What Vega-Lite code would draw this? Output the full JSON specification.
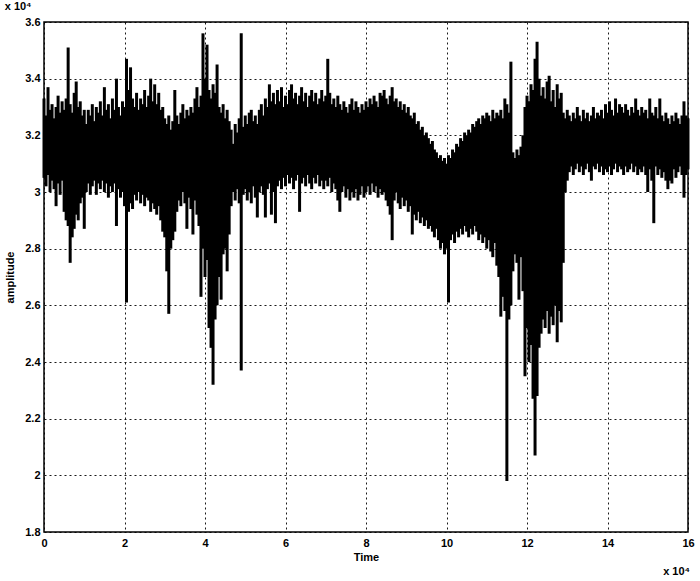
{
"$schema": "https://vega.github.io/schema/vega-lite/v6.json",
"width": 644, "height": 510,
"autosize": "none",
"padding": {"left": 44, "top": 22, "right": 12, "bottom": 49},
"background": "white",
"config": {
  "font": "Liberation Sans",
  "view": {"stroke": "black", "strokeWidth": 1.5},
  "axis": {"labelFont": "Liberation Sans", "labelFontSize": 11, "labelFontWeight": "bold", "labelColor": "black", "titleFont": "Liberation Sans", "titleFontSize": 11, "titleFontWeight": "bold", "titleColor": "black", "ticks": false, "domain": false, "grid": true, "gridColor": "black", "gridDash": [2, 3], "gridWidth": 1, "gridOpacity": 0.9}
},
"title": {"text": "x 10⁴", "anchor": "start", "fontSize": 11, "fontWeight": "bold", "font": "Liberation Sans", "color": "black", "offset": 4},
"layer": [
{
"data": {"values": [
{"t":0.00,"lo":3.05,"hi":3.33},{"t":0.05,"lo":3.02,"hi":3.27},{"t":0.10,"lo":3.06,"hi":3.37},{"t":0.15,"lo":3.00,"hi":3.29},{"t":0.20,"lo":3.04,"hi":3.31},{"t":0.25,"lo":3.01,"hi":3.26},{"t":0.30,"lo":2.95,"hi":3.30},{"t":0.35,"lo":3.03,"hi":3.34},{"t":0.40,"lo":2.99,"hi":3.28},{"t":0.45,"lo":3.04,"hi":3.32},
{"t":0.50,"lo":2.93,"hi":3.29},{"t":0.55,"lo":2.90,"hi":3.33},{"t":0.60,"lo":2.88,"hi":3.51},{"t":0.65,"lo":2.75,"hi":3.31},{"t":0.70,"lo":2.84,"hi":3.28},{"t":0.75,"lo":2.87,"hi":3.35},{"t":0.80,"lo":2.92,"hi":3.39},{"t":0.85,"lo":2.90,"hi":3.30},{"t":0.90,"lo":2.96,"hi":3.32},{"t":0.95,"lo":2.98,"hi":3.27},
{"t":1.00,"lo":2.87,"hi":3.29},{"t":1.05,"lo":3.00,"hi":3.24},{"t":1.10,"lo":3.03,"hi":3.29},{"t":1.15,"lo":2.99,"hi":3.27},{"t":1.20,"lo":3.02,"hi":3.31},{"t":1.25,"lo":3.04,"hi":3.25},{"t":1.30,"lo":2.99,"hi":3.30},{"t":1.35,"lo":3.03,"hi":3.28},{"t":1.40,"lo":3.01,"hi":3.32},{"t":1.45,"lo":3.04,"hi":3.27},
{"t":1.50,"lo":3.00,"hi":3.37},{"t":1.55,"lo":3.03,"hi":3.29},{"t":1.60,"lo":2.98,"hi":3.31},{"t":1.65,"lo":3.02,"hi":3.26},{"t":1.70,"lo":3.00,"hi":3.33},{"t":1.75,"lo":3.03,"hi":3.29},{"t":1.80,"lo":2.88,"hi":3.40},{"t":1.85,"lo":3.01,"hi":3.30},{"t":1.90,"lo":2.98,"hi":3.27},{"t":1.95,"lo":3.00,"hi":3.32},
{"t":2.00,"lo":2.95,"hi":3.30},{"t":2.05,"lo":2.61,"hi":3.47},{"t":2.10,"lo":2.93,"hi":3.36},{"t":2.15,"lo":2.96,"hi":3.44},{"t":2.20,"lo":2.94,"hi":3.33},{"t":2.25,"lo":2.99,"hi":3.30},{"t":2.30,"lo":2.97,"hi":3.35},{"t":2.35,"lo":3.00,"hi":3.29},{"t":2.40,"lo":2.96,"hi":3.33},{"t":2.45,"lo":2.99,"hi":3.31},
{"t":2.50,"lo":2.95,"hi":3.36},{"t":2.55,"lo":2.98,"hi":3.30},{"t":2.60,"lo":2.97,"hi":3.34},{"t":2.65,"lo":2.93,"hi":3.40},{"t":2.70,"lo":2.96,"hi":3.32},{"t":2.75,"lo":2.94,"hi":3.38},{"t":2.80,"lo":2.92,"hi":3.31},{"t":2.85,"lo":2.95,"hi":3.35},{"t":2.90,"lo":2.90,"hi":3.29},{"t":2.95,"lo":2.86,"hi":3.30},
{"t":3.00,"lo":2.84,"hi":3.26},{"t":3.05,"lo":2.72,"hi":3.24},{"t":3.10,"lo":2.57,"hi":3.27},{"t":3.15,"lo":2.80,"hi":3.22},{"t":3.20,"lo":2.83,"hi":3.25},{"t":3.25,"lo":2.86,"hi":3.36},{"t":3.30,"lo":2.93,"hi":3.27},{"t":3.35,"lo":2.97,"hi":3.24},{"t":3.40,"lo":2.95,"hi":3.28},{"t":3.45,"lo":3.00,"hi":3.31},
{"t":3.50,"lo":2.96,"hi":3.26},{"t":3.55,"lo":2.87,"hi":3.29},{"t":3.60,"lo":2.98,"hi":3.27},{"t":3.65,"lo":2.94,"hi":3.30},{"t":3.70,"lo":2.85,"hi":3.28},{"t":3.75,"lo":2.97,"hi":3.33},{"t":3.80,"lo":2.92,"hi":3.37},{"t":3.85,"lo":2.88,"hi":3.30},{"t":3.90,"lo":2.63,"hi":3.34},{"t":3.95,"lo":2.80,"hi":3.56},
{"t":4.00,"lo":2.70,"hi":3.40},{"t":4.05,"lo":2.76,"hi":3.52},{"t":4.10,"lo":2.52,"hi":3.36},{"t":4.15,"lo":2.45,"hi":3.33},{"t":4.20,"lo":2.32,"hi":3.38},{"t":4.25,"lo":2.55,"hi":3.35},{"t":4.30,"lo":2.60,"hi":3.45},{"t":4.35,"lo":2.70,"hi":3.30},{"t":4.40,"lo":2.62,"hi":3.28},{"t":4.45,"lo":2.78,"hi":3.31},
{"t":4.50,"lo":2.80,"hi":3.26},{"t":4.55,"lo":2.72,"hi":3.29},{"t":4.60,"lo":2.85,"hi":3.25},{"t":4.65,"lo":2.95,"hi":3.22},{"t":4.70,"lo":3.00,"hi":3.17},{"t":4.75,"lo":2.97,"hi":3.24},{"t":4.80,"lo":3.01,"hi":3.21},{"t":4.85,"lo":2.96,"hi":3.26},{"t":4.90,"lo":2.37,"hi":3.56},{"t":4.95,"lo":2.99,"hi":3.23},
{"t":5.00,"lo":3.01,"hi":3.27},{"t":5.05,"lo":2.97,"hi":3.24},{"t":5.10,"lo":3.00,"hi":3.28},{"t":5.15,"lo":2.96,"hi":3.29},{"t":5.20,"lo":3.02,"hi":3.25},{"t":5.25,"lo":2.98,"hi":3.27},{"t":5.30,"lo":2.91,"hi":3.24},{"t":5.35,"lo":3.00,"hi":3.29},{"t":5.40,"lo":3.02,"hi":3.31},{"t":5.45,"lo":2.99,"hi":3.27},
{"t":5.50,"lo":2.91,"hi":3.33},{"t":5.55,"lo":3.01,"hi":3.30},{"t":5.60,"lo":3.03,"hi":3.38},{"t":5.65,"lo":2.92,"hi":3.32},{"t":5.70,"lo":3.00,"hi":3.35},{"t":5.75,"lo":2.89,"hi":3.31},{"t":5.80,"lo":3.02,"hi":3.36},{"t":5.85,"lo":3.04,"hi":3.32},{"t":5.90,"lo":3.01,"hi":3.37},{"t":5.95,"lo":3.05,"hi":3.30},
{"t":6.00,"lo":3.02,"hi":3.34},{"t":6.05,"lo":3.06,"hi":3.31},{"t":6.10,"lo":3.03,"hi":3.36},{"t":6.15,"lo":3.05,"hi":3.38},{"t":6.20,"lo":3.01,"hi":3.33},{"t":6.25,"lo":3.04,"hi":3.35},{"t":6.30,"lo":3.06,"hi":3.31},{"t":6.35,"lo":2.93,"hi":3.34},{"t":6.40,"lo":3.03,"hi":3.37},{"t":6.45,"lo":3.05,"hi":3.32},
{"t":6.50,"lo":3.02,"hi":3.35},{"t":6.55,"lo":3.06,"hi":3.30},{"t":6.60,"lo":3.03,"hi":3.34},{"t":6.65,"lo":3.01,"hi":3.36},{"t":6.70,"lo":3.05,"hi":3.32},{"t":6.75,"lo":3.03,"hi":3.35},{"t":6.80,"lo":3.06,"hi":3.31},{"t":6.85,"lo":3.02,"hi":3.33},{"t":6.90,"lo":3.04,"hi":3.36},{"t":6.95,"lo":3.01,"hi":3.32},
{"t":7.00,"lo":3.04,"hi":3.34},{"t":7.05,"lo":3.02,"hi":3.47},{"t":7.10,"lo":3.05,"hi":3.35},{"t":7.15,"lo":3.00,"hi":3.31},{"t":7.20,"lo":3.03,"hi":3.33},{"t":7.25,"lo":3.01,"hi":3.30},{"t":7.30,"lo":2.97,"hi":3.34},{"t":7.35,"lo":2.93,"hi":3.31},{"t":7.40,"lo":3.00,"hi":3.29},{"t":7.45,"lo":3.02,"hi":3.32},
{"t":7.50,"lo":2.98,"hi":3.30},{"t":7.55,"lo":3.01,"hi":3.28},{"t":7.60,"lo":2.97,"hi":3.31},{"t":7.65,"lo":3.00,"hi":3.33},{"t":7.70,"lo":2.98,"hi":3.29},{"t":7.75,"lo":3.01,"hi":3.32},{"t":7.80,"lo":2.97,"hi":3.30},{"t":7.85,"lo":2.99,"hi":3.28},{"t":7.90,"lo":3.02,"hi":3.31},{"t":7.95,"lo":2.98,"hi":3.29},
{"t":8.00,"lo":3.00,"hi":3.32},{"t":8.05,"lo":3.02,"hi":3.30},{"t":8.10,"lo":2.99,"hi":3.33},{"t":8.15,"lo":3.03,"hi":3.31},{"t":8.20,"lo":3.00,"hi":3.34},{"t":8.25,"lo":3.02,"hi":3.32},{"t":8.30,"lo":2.98,"hi":3.30},{"t":8.35,"lo":3.01,"hi":3.35},{"t":8.40,"lo":2.99,"hi":3.34},{"t":8.45,"lo":3.00,"hi":3.36},
{"t":8.50,"lo":2.97,"hi":3.33},{"t":8.55,"lo":2.95,"hi":3.31},{"t":8.60,"lo":2.92,"hi":3.34},{"t":8.65,"lo":2.83,"hi":3.37},{"t":8.70,"lo":2.97,"hi":3.32},{"t":8.75,"lo":3.00,"hi":3.33},{"t":8.80,"lo":2.96,"hi":3.30},{"t":8.85,"lo":2.94,"hi":3.32},{"t":8.90,"lo":2.98,"hi":3.29},{"t":8.95,"lo":2.95,"hi":3.31},
{"t":9.00,"lo":2.97,"hi":3.28},{"t":9.05,"lo":2.93,"hi":3.30},{"t":9.10,"lo":2.95,"hi":3.27},{"t":9.15,"lo":2.85,"hi":3.26},{"t":9.20,"lo":2.92,"hi":3.28},{"t":9.25,"lo":2.90,"hi":3.24},{"t":9.30,"lo":2.93,"hi":3.25},{"t":9.35,"lo":2.89,"hi":3.22},{"t":9.40,"lo":2.91,"hi":3.23},{"t":9.45,"lo":2.88,"hi":3.20},
{"t":9.50,"lo":2.90,"hi":3.21},{"t":9.55,"lo":2.87,"hi":3.19},{"t":9.60,"lo":2.88,"hi":3.17},{"t":9.65,"lo":2.86,"hi":3.18},{"t":9.70,"lo":2.84,"hi":3.15},{"t":9.75,"lo":2.87,"hi":3.14},{"t":9.80,"lo":2.83,"hi":3.12},{"t":9.85,"lo":2.80,"hi":3.13},{"t":9.90,"lo":2.82,"hi":3.11},{"t":9.95,"lo":2.78,"hi":3.12},
{"t":10.00,"lo":2.80,"hi":3.10},{"t":10.05,"lo":2.61,"hi":3.13},{"t":10.10,"lo":2.83,"hi":3.12},{"t":10.15,"lo":2.85,"hi":3.15},{"t":10.20,"lo":2.82,"hi":3.14},{"t":10.25,"lo":2.86,"hi":3.17},{"t":10.30,"lo":2.84,"hi":3.16},{"t":10.35,"lo":2.87,"hi":3.19},{"t":10.40,"lo":2.85,"hi":3.18},{"t":10.45,"lo":2.88,"hi":3.21},
{"t":10.50,"lo":2.86,"hi":3.20},{"t":10.55,"lo":2.84,"hi":3.22},{"t":10.60,"lo":2.87,"hi":3.21},{"t":10.65,"lo":2.85,"hi":3.24},{"t":10.70,"lo":2.88,"hi":3.23},{"t":10.75,"lo":2.86,"hi":3.25},{"t":10.80,"lo":2.83,"hi":3.26},{"t":10.85,"lo":2.85,"hi":3.24},{"t":10.90,"lo":2.82,"hi":3.27},{"t":10.95,"lo":2.84,"hi":3.26},
{"t":11.00,"lo":2.80,"hi":3.28},{"t":11.05,"lo":2.83,"hi":3.27},{"t":11.10,"lo":2.79,"hi":3.25},{"t":11.15,"lo":2.77,"hi":3.29},{"t":11.20,"lo":2.82,"hi":3.26},{"t":11.25,"lo":2.74,"hi":3.28},{"t":11.30,"lo":2.70,"hi":3.27},{"t":11.35,"lo":2.56,"hi":3.29},{"t":11.40,"lo":2.63,"hi":3.26},{"t":11.45,"lo":2.58,"hi":3.33},
{"t":11.50,"lo":1.98,"hi":3.31},{"t":11.55,"lo":2.55,"hi":3.28},{"t":11.60,"lo":2.60,"hi":3.46},{"t":11.65,"lo":2.72,"hi":3.14},{"t":11.70,"lo":2.78,"hi":3.12},{"t":11.75,"lo":2.75,"hi":3.15},{"t":11.80,"lo":2.62,"hi":3.13},{"t":11.85,"lo":2.77,"hi":3.16},{"t":11.90,"lo":2.65,"hi":3.20},{"t":11.95,"lo":2.35,"hi":3.30},
{"t":12.00,"lo":2.52,"hi":3.34},{"t":12.05,"lo":2.40,"hi":3.32},{"t":12.10,"lo":2.46,"hi":3.38},{"t":12.15,"lo":2.27,"hi":3.36},{"t":12.20,"lo":2.07,"hi":3.47},{"t":12.25,"lo":2.28,"hi":3.53},{"t":12.30,"lo":2.45,"hi":3.40},{"t":12.35,"lo":2.50,"hi":3.34},{"t":12.40,"lo":2.55,"hi":3.37},{"t":12.45,"lo":2.52,"hi":3.33},
{"t":12.50,"lo":2.58,"hi":3.39},{"t":12.55,"lo":2.50,"hi":3.41},{"t":12.60,"lo":2.56,"hi":3.32},{"t":12.65,"lo":2.53,"hi":3.36},{"t":12.70,"lo":2.60,"hi":3.30},{"t":12.75,"lo":2.47,"hi":3.38},{"t":12.80,"lo":2.58,"hi":3.33},{"t":12.85,"lo":2.54,"hi":3.35},{"t":12.90,"lo":2.75,"hi":3.28},{"t":12.95,"lo":3.00,"hi":3.26},
{"t":13.00,"lo":3.04,"hi":3.29},{"t":13.05,"lo":3.07,"hi":3.27},{"t":13.10,"lo":3.09,"hi":3.25},{"t":13.15,"lo":3.06,"hi":3.28},{"t":13.20,"lo":3.08,"hi":3.26},{"t":13.25,"lo":3.10,"hi":3.30},{"t":13.30,"lo":3.07,"hi":3.27},{"t":13.35,"lo":3.09,"hi":3.25},{"t":13.40,"lo":3.06,"hi":3.29},{"t":13.45,"lo":3.08,"hi":3.26},
{"t":13.50,"lo":3.10,"hi":3.28},{"t":13.55,"lo":3.07,"hi":3.25},{"t":13.60,"lo":3.04,"hi":3.27},{"t":13.65,"lo":3.09,"hi":3.30},{"t":13.70,"lo":3.08,"hi":3.26},{"t":13.75,"lo":3.10,"hi":3.28},{"t":13.80,"lo":3.07,"hi":3.27},{"t":13.85,"lo":3.09,"hi":3.29},{"t":13.90,"lo":3.06,"hi":3.26},{"t":13.95,"lo":3.08,"hi":3.31},
{"t":14.00,"lo":3.07,"hi":3.28},{"t":14.05,"lo":3.09,"hi":3.32},{"t":14.10,"lo":3.06,"hi":3.29},{"t":14.15,"lo":3.08,"hi":3.27},{"t":14.20,"lo":3.10,"hi":3.33},{"t":14.25,"lo":3.07,"hi":3.28},{"t":14.30,"lo":3.09,"hi":3.31},{"t":14.35,"lo":3.08,"hi":3.30},{"t":14.40,"lo":3.06,"hi":3.28},{"t":14.45,"lo":3.09,"hi":3.31},
{"t":14.50,"lo":3.07,"hi":3.29},{"t":14.55,"lo":3.08,"hi":3.27},{"t":14.60,"lo":3.10,"hi":3.30},{"t":14.65,"lo":3.07,"hi":3.28},{"t":14.70,"lo":3.09,"hi":3.33},{"t":14.75,"lo":3.06,"hi":3.29},{"t":14.80,"lo":3.08,"hi":3.27},{"t":14.85,"lo":3.07,"hi":3.30},{"t":14.90,"lo":3.09,"hi":3.28},{"t":14.95,"lo":3.06,"hi":3.29},
{"t":15.00,"lo":3.00,"hi":3.26},{"t":15.05,"lo":3.08,"hi":3.33},{"t":15.10,"lo":3.04,"hi":3.28},{"t":15.15,"lo":2.89,"hi":3.27},{"t":15.20,"lo":3.09,"hi":3.30},{"t":15.25,"lo":3.06,"hi":3.26},{"t":15.30,"lo":3.08,"hi":3.33},{"t":15.35,"lo":3.05,"hi":3.27},{"t":15.40,"lo":3.07,"hi":3.25},{"t":15.45,"lo":3.04,"hi":3.28},
{"t":15.50,"lo":3.01,"hi":3.26},{"t":15.55,"lo":3.04,"hi":3.24},{"t":15.60,"lo":3.03,"hi":3.27},{"t":15.65,"lo":3.08,"hi":3.25},{"t":15.70,"lo":3.05,"hi":3.28},{"t":15.75,"lo":3.07,"hi":3.26},{"t":15.80,"lo":3.09,"hi":3.24},{"t":15.85,"lo":3.06,"hi":3.27},{"t":15.90,"lo":2.98,"hi":3.32},{"t":15.95,"lo":3.06,"hi":3.27},
{"t":16.00,"lo":3.08,"hi":3.26}
]},
"mark": {"type": "rule", "strokeWidth": 3, "color": "black", "strokeCap": "butt"},
"encoding": {
  "x": {"field": "t", "type": "quantitative", "scale": {"domain": [0, 16], "nice": false}, "axis": {"values": [0,2,4,6,8,10,12,14,16], "format": "~g", "title": "Time", "labelPadding": 5, "titlePadding": 3, "labelFlush": false}},
  "y": {"field": "lo", "type": "quantitative", "scale": {"domain": [1.8, 3.6], "nice": false, "zero": false}, "axis": {"values": [1.8,2,2.2,2.4,2.6,2.8,3,3.2,3.4,3.6], "format": "~g", "title": "amplitude", "labelPadding": 4, "titlePadding": 9, "labelFlush": false}},
  "y2": {"field": "hi"}
}
},
{
"data": {"values": [{"t": 16, "v": 1.8, "label": "x 10⁴"}]},
"mark": {"type": "text", "align": "right", "baseline": "alphabetic", "dx": 2, "dy": 43, "fontSize": 11, "fontWeight": "bold", "font": "Liberation Sans", "color": "black"},
"encoding": {"x": {"field": "t", "type": "quantitative"}, "y": {"field": "v", "type": "quantitative"}, "text": {"field": "label"}}
}
]
}
